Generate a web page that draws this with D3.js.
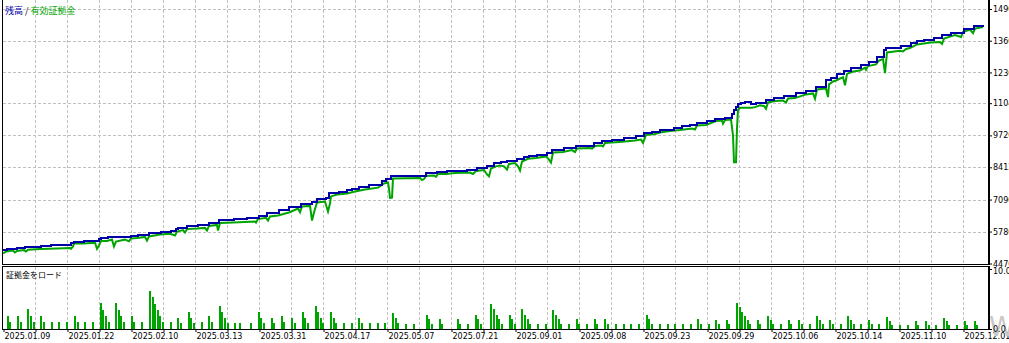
<!DOCTYPE html>
<html>
<head>
<meta charset="utf-8">
<script src="https://cdn.jsdelivr.net/npm/d3@7"></script>
<style>
  body { margin: 0; background: #fff; }
  svg { display: block; }
  .tick text { font-family: "DejaVu Sans", sans-serif; font-size: 8px; fill: #000; }
  .grid line { stroke: #c0c0c0; stroke-width: 1; stroke-dasharray: 3,2; shape-rendering: crispEdges; }
</style>
</head>
<body>
<svg width="1009" height="343"></svg>
<script>
// x-axis labels (tester position) and main y ticks
const xLabels = ["2025.01.09", "2025.01.22", "2025.02.10", "2025.03.13", "2025.03.31", "2025.04.17",
  "2025.05.07", "2025.07.21", "2025.09.01", "2025.09.08", "2025.09.23", "2025.09.29",
  "2025.10.06", "2025.10.14", "2025.11.10", "2025.12.01"];
const yTicks = [4470, 5780, 7090, 8412, 9720, 11040, 12300, 13600, 14900];
const loadTicks = [0, 10];

// balance, [position, value]
const balance = [[0,5020],[4,5080],[14,5120],[22,5160],[38,5190],[48,5230],[68,5300],[71,5360],[81,5400],[96,5460],
  [98,5520],[105,5570],[128,5600],[135,5640],[146,5730],[158,5770],[168,5810],[173,5900],[175,5940],[184,6010],
  [195,6060],[206,6130],[216,6240],[231,6290],[244,6320],[256,6430],[264,6530],[276,6660],[286,6790],[298,6910],
  [309,7000],[314,7100],[323,7170],[326,7340],[336,7410],[344,7480],[349,7540],[356,7620],[366,7690],[379,7860],
  [383,7920],[388,8060],[423,8180],[434,8220],[444,8260],[464,8310],[474,8380],[484,8480],[491,8580],[498,8630],
  [504,8670],[514,8750],[521,8850],[526,8890],[534,8930],[544,9010],[549,9120],[561,9220],[573,9290],[591,9400],
  [599,9500],[609,9540],[621,9600],[633,9700],[641,9830],[649,9870],[657,9960],[671,10040],[679,10090],[687,10160],
  [694,10230],[704,10310],[712,10400],[722,10450],[729,10600],[731,10760],[733,10900],[735,11010],[738,11060],[742,11100],
  [748,10990],[753,11050],[763,11170],[771,11240],[781,11320],[793,11450],[803,11530],[813,11700],[823,11990],[828,12060],
  [834,12220],[841,12360],[848,12470],[858,12600],[866,12720],[874,12920],[881,13210],[883,13290],[898,13380],[908,13490],
  [914,13590],[921,13640],[931,13700],[939,13830],[948,13900],[961,14070],[971,14200],[980,14240]];

// equity, [position, value]
const equity = [[0,4900],[3,4980],[10,5020],[12,4940],[14,5000],[21,5040],[23,4980],[25,5050],[37,5080],[47,5100],
  [67,5130],[68,5090],[70,5190],[71,5310],[80,5310],[92,5340],[94,5090],[96,5230],[98,5410],[104,5410],
  [109,5470],[111,5190],[113,5390],[122,5470],[126,5400],[128,5520],[134,5540],[142,5580],[144,5430],[146,5600],
  [157,5680],[167,5710],[172,5640],[174,5800],[180,5860],[182,5760],[184,5900],[194,5920],[202,5950],[204,5840],
  [206,6030],[214,6070],[215,5840],[217,6150],[230,6170],[242,6190],[252,6210],[253,6170],[255,6310],[263,6360],
  [265,6250],[267,6420],[275,6460],[286,6580],[295,6740],[297,6590],[299,6830],[307,6850],[309,6250],[311,6580],
  [314,6990],[322,7030],[325,6620],[327,6950],[328,7240],[334,7320],[344,7360],[352,7440],[362,7520],[375,7600],
  [381,7770],[385,7810],[386,7560],[387,7180],[389,7190],[390,7970],[417,7990],[419,7910],[421,7950],[423,8080],
  [431,8100],[433,8040],[435,8160],[443,8160],[452,8200],[467,8220],[470,8160],[473,8280],[481,8320],[484,8140],
  [486,8060],[488,8380],[493,8470],[497,8510],[501,8470],[504,8340],[506,8570],[512,8610],[515,8470],[517,8300],
  [519,8670],[525,8780],[533,8810],[543,8880],[546,8750],[548,8630],[550,9040],[560,9060],[569,9140],[572,9060],
  [574,9200],[587,9220],[589,9200],[592,9310],[598,9330],[600,9290],[602,9430],[619,9480],[632,9530],[638,9570],
  [640,9430],[643,9760],[652,9800],[657,9860],[667,9920],[677,9960],[689,10020],[692,9980],[694,10150],[703,10170],
  [713,10330],[719,10350],[720,10220],[722,10370],[728,10390],[730,9740],[731,8640],[733,8640],[734,10020],[735,10780],
  [737,10870],[749,10870],[752,10900],[757,10970],[761,10950],[763,10830],[765,11090],[772,11150],[780,11170],[783,11090],
  [785,11250],[792,11270],[803,11420],[810,11460],[812,11240],[814,11620],[823,11660],[825,11310],[826,11830],[830,11950],
  [833,11990],[840,12130],[842,11790],[844,12260],[850,12360],[857,12400],[862,12520],[863,12430],[865,12580],[873,12650],
  [876,12810],[880,12870],[882,12290],[884,13140],[897,13210],[900,13180],[903,13280],[907,13320],[914,13470],[928,13550],
  [937,13570],[939,13490],[941,13710],[947,13790],[952,13850],[958,13770],[960,13980],[967,14080],[970,13930],[972,14120],
  [980,14180]];

// margin load %, [position, value]
const marginLoad = [[4,2.1],[6,1.1],[14,2.1],[17,1.1],[24,3.3],[27,2.1],[30,1.1],[37,2.1],[40,1.1],[48,1.1],
  [55,1.1],[63,1.1],[71,2.1],[74,1.1],[81,1.1],[89,1.1],[97,4.3],[99,3.1],[102,2.1],[105,1.1],
  [112,4.3],[115,3.1],[117,2.1],[120,1.1],[128,2.1],[130,1.1],[138,1.1],[146,6.3],[149,5.3],[151,4.1],
  [154,3.1],[156,2.1],[159,1.1],[167,1.1],[174,1.9],[177,0.95],[185,2.9],[187,1.9],[190,0.95],[198,1.1],
  [205,2.1],[208,1.1],[216,3.9],[218,2.9],[221,1.9],[224,0.95],[231,0.95],[236,0.95],[247,0.95],[255,2.9],
  [257,1.9],[260,0.95],[268,1.9],[270,0.95],[278,2.1],[280,1.1],[288,1.9],[291,0.95],[299,2.9],[301,1.9],
  [304,0.95],[312,3.8],[314,2.9],[317,1.9],[319,0.95],[327,2.9],[330,1.9],[332,0.95],[340,0.95],[348,0.95],
  [355,1.8],[358,0.95],[366,0.95],[374,0.95],[381,0.95],[389,2.6],[392,1.8],[394,0.95],[402,0.8],[410,0.8],
  [423,2.4],[425,1.6],[428,0.8],[436,1.6],[438,0.8],[454,1.6],[456,0.8],[464,0.8],[472,2.4],[474,1.6],
  [477,0.8],[487,4.1],[490,3.3],[493,2.4],[495,1.6],[498,0.8],[506,2.4],[508,1.6],[511,0.8],[518,3.3],
  [521,2.4],[524,1.6],[526,0.8],[534,0.8],[542,0.8],[549,3.1],[552,2.4],[555,1.6],[557,0.8],[565,0.8],
  [573,1.6],[575,0.8],[583,0.8],[591,1.6],[593,0.8],[601,1.6],[604,0.8],[612,0.8],[620,0.8],[627,0.8],
  [635,0.8],[643,2.3],[645,1.6],[648,0.8],[656,0.8],[664,0.8],[671,0.8],[679,0.8],[687,0.8],[694,1.6],
  [697,0.8],[705,0.8],[712,1.45],[715,0.8],[723,1.45],[725,0.8],[733,4.3],[736,3.6],[738,2.9],[741,2.1],
  [744,1.45],[746,0.8],[754,1.45],[756,0.8],[764,2.1],[767,1.45],[769,0.8],[777,0.8],[785,1.45],[787,0.8],
  [795,1.45],[798,0.8],[806,0.8],[813,2.1],[816,1.45],[819,0.8],[826,1.45],[829,0.8],[837,0.8],[844,2.1],
  [847,1.45],[850,0.8],[857,0.8],[865,1.45],[868,0.8],[875,0.8],[883,1.95],[886,1.3],[888,0.6],[896,0.6],
  [904,0.6],[912,1.3],[914,0.6],[922,1.3],[925,0.6],[932,0.6],[940,1.8],[943,1.3],[945,0.6],[953,0.6],
  [961,1.3],[963,0.6],[971,1.3],[973,0.6]];

const svg = d3.select("svg");
const blue = "#0000a8", green = "#00a400";

const x = d3.scaleLinear().domain([0, 985]).range([3, 988]);
const y = d3.scaleLinear().domain([4470, 14900]).range([263.5, 9]);
const yLoad = d3.scaleLinear().domain([0, 10]).range([329, 269]);

const gridPos = d3.range(32, 961, 32);

// grid: main pane
const gMain = svg.append("g").attr("class", "grid");
gMain.selectAll("line.v").data(gridPos).enter().append("line")
  .attr("x1", d => x(d) + 0.5).attr("x2", d => x(d) + 0.5)
  .attr("y1", 0).attr("y2", 264);
gMain.selectAll("line.h").data(yTicks.slice(1)).enter().append("line")
  .attr("x1", 3).attr("x2", 988)
  .attr("y1", d => Math.round(y(d)) + 0.5).attr("y2", d => Math.round(y(d)) + 0.5);

// grid: lower pane
const gLow = svg.append("g").attr("class", "grid");
gLow.selectAll("line").data(gridPos).enter().append("line")
  .attr("x1", d => x(d) + 0.5).attr("x2", d => x(d) + 0.5)
  .attr("y1", 267).attr("y2", 329);

// equity then balance
svg.append("path")
  .datum(equity)
  .attr("fill", "none")
  .attr("stroke", green)
  .attr("stroke-width", 2)
  .attr("d", d3.line().x(d => x(d[0])).y(d => y(d[1]) + 0.5));

svg.append("path")
  .datum(balance)
  .attr("fill", "none")
  .attr("stroke", blue)
  .attr("stroke-width", 2)
  .attr("shape-rendering", "crispEdges")
  .attr("d", d3.line().curve(d3.curveStepAfter).x(d => x(d[0])).y(d => y(d[1])));

// margin load bars
svg.append("g").selectAll("rect").data(marginLoad).enter().append("rect")
  .attr("x", d => x(d[0]))
  .attr("width", 2)
  .attr("y", d => yLoad(d[1]))
  .attr("height", d => yLoad(0) - yLoad(d[1]))
  .attr("fill", green)
  .attr("shape-rendering", "crispEdges");

// frames
const frame = svg.append("g").attr("stroke", "#000").attr("shape-rendering", "crispEdges");
frame.append("line").attr("x1", 2.5).attr("x2", 2.5).attr("y1", 0).attr("y2", 265);
frame.append("line").attr("x1", 2).attr("x2", 990).attr("y1", 264.5).attr("y2", 264.5);
frame.append("line").attr("x1", 989).attr("x2", 989).attr("y1", 0).attr("y2", 265).attr("stroke-width", 2);
frame.append("line").attr("x1", 2).attr("x2", 990).attr("y1", 266.5).attr("y2", 266.5);
frame.append("line").attr("x1", 2.5).attr("x2", 2.5).attr("y1", 266).attr("y2", 330);
frame.append("line").attr("x1", 989).attr("x2", 989).attr("y1", 266).attr("y2", 330).attr("stroke-width", 2);
frame.append("line").attr("x1", 2).attr("x2", 990).attr("y1", 329.5).attr("y2", 329.5);

// x axis
const xAxis = svg.append("g")
  .attr("transform", "translate(0,330)")
  .call(d3.axisBottom(x)
    .tickValues([0].concat(gridPos))
    .tickSize(2)
    .tickFormat((d, i) => i % 2 === 0 ? xLabels[i / 2] : ""));
xAxis.select(".domain").remove();
xAxis.selectAll(".tick line").attr("stroke", "#000").attr("transform", "translate(0.5,0)");
xAxis.selectAll(".tick text").attr("text-anchor", "start").attr("x", 1).attr("y", 3);

// watermark
svg.append("text")
  .attr("x", 989).attr("y", 336)
  .attr("font-family", "DejaVu Sans")
  .attr("font-size", 26)
  .attr("fill", "#c8c8c8")
  .text("W");

// y axes
const yAxis = svg.append("g")
  .attr("transform", "translate(990,0)")
  .call(d3.axisRight(y).tickValues(yTicks).tickSize(2).tickPadding(1).tickFormat(d3.format("d")));
yAxis.select(".domain").remove();

const loadAxis = svg.append("g")
  .attr("transform", "translate(990,0)")
  .call(d3.axisRight(yLoad).tickValues(loadTicks).tickSize(2).tickPadding(1).tickFormat(d3.format(".1f")));
loadAxis.select(".domain").remove();
loadAxis.selectAll(".tick text").attr("y", d => d === 10 ? 2 : 0);

// pane titles
const title = svg.append("text")
  .attr("x", 5).attr("y", 13.5)
  .attr("font-family", "Noto Sans CJK JP")
  .attr("font-size", 9);
title.append("tspan").attr("fill", blue).text("残高");
title.append("tspan").attr("fill", "#000").text(" / ");
title.append("tspan").attr("fill", green).text("有効証拠金");

svg.append("text")
  .attr("x", 6).attr("y", 277.5)
  .attr("font-family", "Noto Sans CJK JP")
  .attr("font-size", 8)
  .attr("fill", "#000")
  .text("証拠金をロード");
</script>
</body>
</html>
